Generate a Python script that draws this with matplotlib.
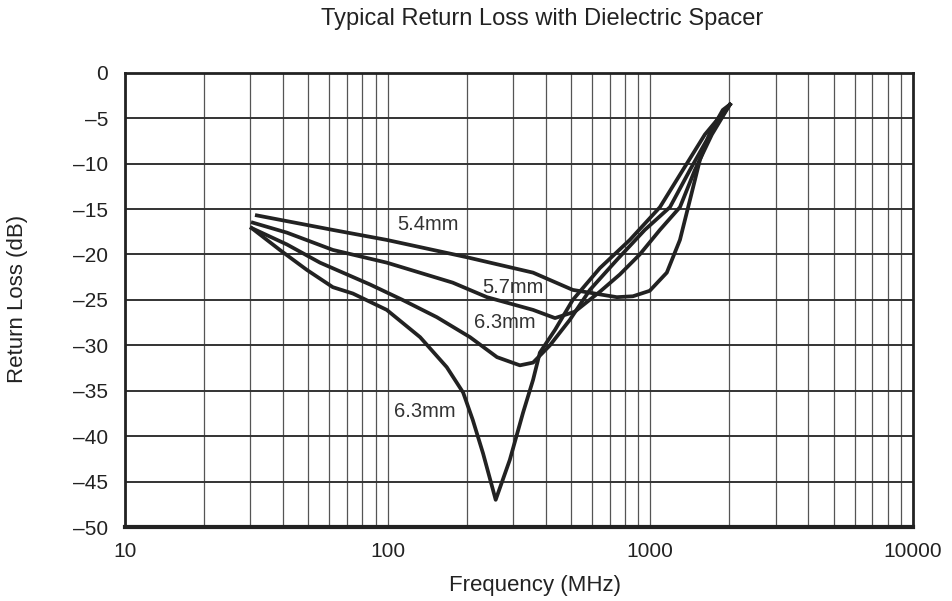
import numpy as np
from matplotlib import pyplot as plt

plt.rcParams['font.family'] = ['Liberation Sans', 'DejaVu Sans']

# Curvas (freq em MHz, perda de retorno em dB)
f_54 = [31.8, 61.9, 99.3, 200, 358, 507, 746, 859, 995, 1156, 1297, 1416, 1545, 1687, 1888, 2010]
rl_54 = [-15.7, -17.3, -18.4, -20.3, -22.0, -23.9, -24.7, -24.6, -24.0, -22.0, -18.4, -14.0, -9.6, -6.6, -4.1, -3.5]

f_57 = [30.7, 41.4, 61.9, 99.3, 177, 239, 358, 434, 516, 643, 766, 912, 1088, 1297, 1479, 1716, 2010]
rl_57 = [-16.5, -17.6, -19.5, -20.9, -23.1, -24.7, -26.1, -27.0, -26.3, -24.1, -22.2, -20.0, -17.3, -14.8, -10.7, -6.8, -3.5]

f_63a = [30.4, 41.4, 55.3, 85.7, 114, 154, 206, 261, 319, 358, 415, 494, 589, 746, 953, 1188, 1416, 1687, 2010]
rl_63a = [-17.1, -18.9, -20.9, -23.3, -25.0, -26.9, -29.1, -31.3, -32.2, -31.9, -30.0, -27.2, -23.9, -20.6, -17.3, -14.8, -10.7, -6.8, -3.5]

f_63b = [30.4, 38.9, 49.3, 61.9, 73.8, 99.3, 133, 168, 194, 211, 231, 258, 292, 328, 358, 380, 434, 507, 643, 836, 1088, 1331, 1614, 2010]
rl_63b = [-17.1, -19.5, -21.7, -23.6, -24.3, -26.1, -29.1, -32.4, -35.2, -38.2, -41.9, -47.0, -42.6, -37.4, -33.8, -30.8, -28.3, -25.0, -21.5, -18.4, -14.8, -10.7, -6.8, -3.5]

# Rotulos das curvas
rotulos = ["5.4mm", "5.7mm", "6.3mm", "6.3mm"]
rot_x = [142, 300, 280, 139]
rot_y = [-16.7, -23.6, -27.5, -37.3]

# Ticks
x_ticks = [10, 100, 1000, 10000]
x_rotulos = ["10", "100", "1000", "10000"]
y_ticks = list(range(-50, 1, 5))
y_rotulos = [str(v).replace("-", "\u2013") for v in y_ticks]

fig = plt.figure(figsize=(9.53, 6.01), dpi=100)
ax = fig.add_axes([0.131, 0.123, 0.827, 0.756])

# grade vertical (log) e horizontal
for dec in [10, 100, 1000]:
    for m in range(1, 10):
        ax.axvline(dec * m, color='#555555', lw=0.9, zorder=1)
for yv in np.arange(-45, 0, 5):
    ax.axhline(yv, color='#333333', lw=1.4, zorder=1)

cor = '#222222'
ax.plot(f_54, rl_54, color=cor, lw=2.7, zorder=3)
ax.plot(f_57, rl_57, color=cor, lw=2.7, zorder=3)
ax.plot(f_63a, rl_63a, color=cor, lw=2.7, zorder=3)
ax.plot(f_63b, rl_63b, color=cor, lw=2.7, zorder=3)

for t, x, y in zip(rotulos, rot_x, rot_y):
    ax.text(x, y, t, ha='center', va='center', fontsize=14.5, color='#333333', zorder=4)

ax.set_xscale('log')
ax.set_xlim(10, 10000)
ax.set_ylim(-50, 0)
ax.set_xticks(x_ticks)
ax.set_xticklabels(x_rotulos)
ax.minorticks_off()
ax.set_yticks(y_ticks)
ax.set_yticklabels(y_rotulos)
ax.tick_params(length=0, labelsize=15, colors='#222222')
ax.tick_params(axis='y', pad=12)
ax.tick_params(axis='x', pad=11)

for s in ax.spines.values():
    s.set_linewidth(2)
    s.set_color('#222222')
ax.spines['bottom'].set_linewidth(3)

ax.set_xlabel("Frequency (MHz)", fontsize=16, color='#222222')
ax.set_ylabel("Return Loss (dB)", fontsize=16, color='#222222')
ax.xaxis.set_label_coords(0.520, -0.106)
ax.yaxis.set_label_coords(-0.123, 0.502)
fig.text(0.569, 0.968, "Typical Return Loss with Dielectric Spacer", ha='center', va='center',
         fontsize=17, color='#222222')

fig.savefig("out.png", dpi=100)
